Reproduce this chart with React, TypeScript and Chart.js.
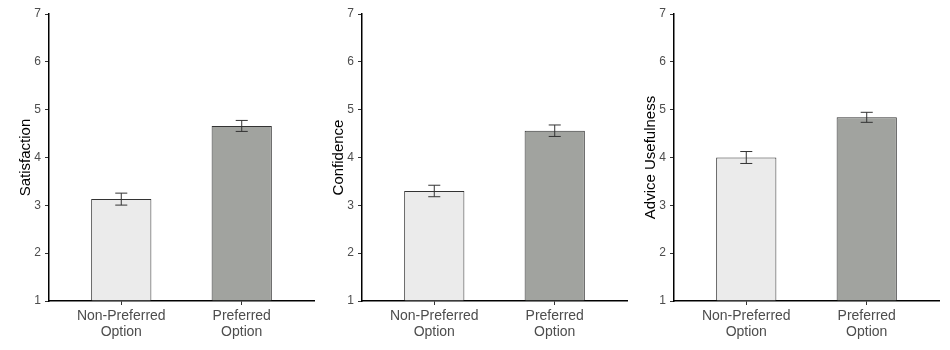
import React, { useEffect, useRef } from "react";
import { Chart, registerables } from "chart.js";
Chart.register(...registerables);

const categories: string[][] = [["Non-Preferred", "Option"], ["Preferred", "Option"]];
const categoryPositions = [1, 2];
const yMin = 1;
const yMax = 7;
const panelTitles = ["Satisfaction", "Confidence", "Advice Usefulness"];
const satisfactionMeans = [3.13, 4.66];
const satisfactionErrors = [0.125, 0.115];
const confidenceMeans = [3.3, 4.56];
const confidenceErrors = [0.12, 0.12];
const usefulnessMeans = [4.0, 4.84];
const usefulnessErrors = [0.125, 0.105];
const barColors = ["#EBEBEB", "#A1A39F"];

const FONT = "'Liberation Sans', Arial, sans-serif";

type PanelProps = { title: string; means: number[]; errors: number[]; left: number };

function Panel({ title, means, errors, left }: PanelProps) {
  const ref = useRef<HTMLCanvasElement | null>(null);
  useEffect(() => {
    if (!ref.current) return;
    const errorBarPlugin = {
      id: "errorBars",
      afterDatasetsDraw(chart: any) {
        const ctx = chart.ctx;
        const meta = chart.getDatasetMeta(0);
        const ys = chart.scales.y;
        ctx.save();
        ctx.strokeStyle = "#333333";
        ctx.lineWidth = 1;
        meta.data.forEach((bar: any, i: number) => {
          const v = means[i];
          const top = ys.getPixelForValue(v + errors[i]);
          const bot = ys.getPixelForValue(v - errors[i]);
          const half = bar.width * 0.1;
          ctx.beginPath();
          ctx.moveTo(bar.x, top);
          ctx.lineTo(bar.x, bot);
          ctx.moveTo(bar.x - half, top);
          ctx.lineTo(bar.x + half, top);
          ctx.moveTo(bar.x - half, bot);
          ctx.lineTo(bar.x + half, bot);
          ctx.stroke();
        });
        ctx.restore();
      },
    };
    const chart = new Chart(ref.current, {
      type: "bar",
      data: {
        datasets: [
          {
            data: categoryPositions.map((x, i) => ({ x, y: means[i] })),
            backgroundColor: barColors,
            borderColor: "#333333",
            borderWidth: 1,
            categoryPercentage: 1,
            barPercentage: 0.5,
            base: yMin,
          } as any,
        ],
      },
      options: {
        animation: false,
        responsive: true,
        maintainAspectRatio: false,
        layout: { padding: { left: 13, right: 2, top: 14, bottom: 0 } },
        plugins: { legend: { display: false }, tooltip: { enabled: false } },
        scales: {
          x: {
            type: "linear",
            offset: false,
            min: 0.4,
            max: 2.6,
            afterBuildTicks: (s: any) => {
              s.ticks = categoryPositions.map((v) => ({ value: v }));
            },
            afterFit: (s: any) => {
              s.height = 49;
            },
            grid: { display: true, offset: false, drawOnChartArea: false, drawTicks: true, tickLength: 4, color: "#333333" },
            border: { display: true, color: "#000000", width: 1.5 },
            ticks: {
              autoSkip: false,
              maxRotation: 0,
              padding: 4,
              color: "#4D4D4D",
              font: { family: FONT, size: 14, lineHeight: 1.08 },
              callback: (v: any) => {
                const i = categoryPositions.indexOf(Number(v));
                return i >= 0 ? categories[i] : "";
              },
            },
          },
          y: {
            min: yMin,
            max: yMax,
            afterFit: (s: any) => {
              s.width = 36;
            },
            grid: { display: true, drawOnChartArea: false, drawTicks: true, tickLength: 4, color: "#333333" },
            border: { display: true, color: "#000000", width: 1.5 },
            ticks: {
              stepSize: 1,
              padding: 4,
              color: "#4D4D4D",
              font: { family: FONT, size: 12 },
            },
            title: {
              display: true,
              text: title,
              color: "#000000",
              font: { family: FONT, size: 15 },
              padding: { top: 4, bottom: 4 },
            },
          },
        },
      },
      plugins: [errorBarPlugin],
    } as any);
    return () => chart.destroy();
  }, [title, means, errors]);
  return (
    <div style={{ position: "absolute", left, top: 0, width: 316, height: 350 }}>
      <canvas ref={ref} />
    </div>
  );
}

export default function App() {
  return (
    <div style={{ position: "fixed", left: 0, top: 0, width: 950, height: 350, background: "#fff" }}>
      <Panel title={panelTitles[0]} means={satisfactionMeans} errors={satisfactionErrors} left={0} />
      <Panel title={panelTitles[1]} means={confidenceMeans} errors={confidenceErrors} left={313} />
      <Panel title={panelTitles[2]} means={usefulnessMeans} errors={usefulnessErrors} left={625} />
    </div>
  );
}
